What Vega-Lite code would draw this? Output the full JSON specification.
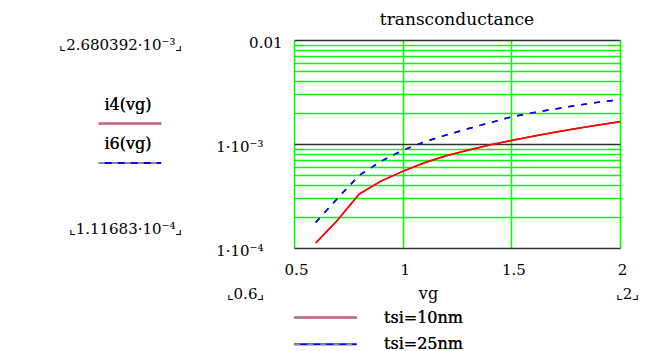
{
  "$schema": "https://vega.github.io/schema/vega-lite/v6.json",
  "width": 326,
  "height": 208,
  "autosize": {"type": "none"},
  "padding": {"left": 294, "top": 40, "right": 32, "bottom": 103},
  "background": "white",
  "config": {"view": {"stroke": null}, "font": "DejaVu Serif"},
  "title": {"text": "transconductance", "font": "DejaVu Serif", "fontSize": 17, "fontWeight": "normal", "color": "#000000", "anchor": "middle", "offset": 6, "frame": "group"},
  "data": {"values": [
    {"vg": 0.6, "g": 0.0001117, "tsi": "tsi=10nm", "fn": "i4(vg)"},
    {"vg": 0.7, "g": 0.000185, "tsi": "tsi=10nm", "fn": "i4(vg)"},
    {"vg": 0.8, "g": 0.00033, "tsi": "tsi=10nm", "fn": "i4(vg)"},
    {"vg": 0.9, "g": 0.00044, "tsi": "tsi=10nm", "fn": "i4(vg)"},
    {"vg": 1.0, "g": 0.000545, "tsi": "tsi=10nm", "fn": "i4(vg)"},
    {"vg": 1.1, "g": 0.00066, "tsi": "tsi=10nm", "fn": "i4(vg)"},
    {"vg": 1.2, "g": 0.00077, "tsi": "tsi=10nm", "fn": "i4(vg)"},
    {"vg": 1.3, "g": 0.00087, "tsi": "tsi=10nm", "fn": "i4(vg)"},
    {"vg": 1.4, "g": 0.00098, "tsi": "tsi=10nm", "fn": "i4(vg)"},
    {"vg": 1.5, "g": 0.00108, "tsi": "tsi=10nm", "fn": "i4(vg)"},
    {"vg": 1.6, "g": 0.00119, "tsi": "tsi=10nm", "fn": "i4(vg)"},
    {"vg": 1.7, "g": 0.0013, "tsi": "tsi=10nm", "fn": "i4(vg)"},
    {"vg": 1.8, "g": 0.00141, "tsi": "tsi=10nm", "fn": "i4(vg)"},
    {"vg": 1.9, "g": 0.00152, "tsi": "tsi=10nm", "fn": "i4(vg)"},
    {"vg": 2.0, "g": 0.00164, "tsi": "tsi=10nm", "fn": "i4(vg)"},
    {"vg": 0.6, "g": 0.000176, "tsi": "tsi=25nm", "fn": "i6(vg)"},
    {"vg": 0.7, "g": 0.0003, "tsi": "tsi=25nm", "fn": "i6(vg)"},
    {"vg": 0.8, "g": 0.0005, "tsi": "tsi=25nm", "fn": "i6(vg)"},
    {"vg": 0.9, "g": 0.00068, "tsi": "tsi=25nm", "fn": "i6(vg)"},
    {"vg": 1.0, "g": 0.00087, "tsi": "tsi=25nm", "fn": "i6(vg)"},
    {"vg": 1.1, "g": 0.00105, "tsi": "tsi=25nm", "fn": "i6(vg)"},
    {"vg": 1.2, "g": 0.00122, "tsi": "tsi=25nm", "fn": "i6(vg)"},
    {"vg": 1.3, "g": 0.0014, "tsi": "tsi=25nm", "fn": "i6(vg)"},
    {"vg": 1.4, "g": 0.0016, "tsi": "tsi=25nm", "fn": "i6(vg)"},
    {"vg": 1.5, "g": 0.00182, "tsi": "tsi=25nm", "fn": "i6(vg)"},
    {"vg": 1.6, "g": 0.002, "tsi": "tsi=25nm", "fn": "i6(vg)"},
    {"vg": 1.7, "g": 0.00217, "tsi": "tsi=25nm", "fn": "i6(vg)"},
    {"vg": 1.8, "g": 0.00235, "tsi": "tsi=25nm", "fn": "i6(vg)"},
    {"vg": 1.9, "g": 0.00252, "tsi": "tsi=25nm", "fn": "i6(vg)"},
    {"vg": 2.0, "g": 0.00268, "tsi": "tsi=25nm", "fn": "i6(vg)"}
  ]},
  "layer": [
    {
      "mark": {"type": "line", "strokeWidth": 1.5, "clip": true},
      "encoding": {
        "x": {"field": "vg", "type": "quantitative",
          "scale": {"domain": [0.5, 2], "nice": false, "zero": false},
          "axis": {"orient": "bottom", "values": [0.5, 1, 1.5, 2], "format": "~g", "grid": true, "gridColor": "#00ff00", "gridWidth": 1.5, "gridOpacity": 1,
            "domain": false, "ticks": false, "tickSize": 0, "labelPadding": 14, "labelOffset": 2, "labelFontSize": 15, "labelColor": "#000000", "labelFont": "DejaVu Serif",
            "labelFlush": false, "labelOverlap": false,
            "title": "vg", "titleFont": "DejaVu Serif", "titleFontSize": 16, "titleFontWeight": "normal", "titleColor": "#000000", "titleX": 134, "titleY": 45, "titleBaseline": "middle", "titleAlign": "center"}},
        "y": {"field": "g", "type": "quantitative",
          "scale": {"type": "log", "domain": [0.0001, 0.01], "nice": false},
          "axis": {"orient": "left", "values": [0.0001, 0.0002, 0.0003, 0.0004, 0.0005, 0.0006, 0.0007, 0.0008, 0.0009, 0.001, 0.002, 0.003, 0.004, 0.005, 0.006, 0.007, 0.008, 0.009, 0.01],
            "grid": true, "gridColor": {"condition": {"test": "abs(log(datum.value)/LN10 - round(log(datum.value)/LN10)) < 0.01", "value": "#333333"}, "value": "#00ff00"}, "gridWidth": 1.5, "gridOpacity": 1,
            "domain": false, "ticks": false, "tickSize": 0,
            "labelExpr": "datum.value > 0.0095 ? '0.01' : abs(datum.value - 0.001) < 0.000001 ? '1·10⁻³' : abs(datum.value - 0.0001) < 0.0000001 ? '1·10⁻⁴' : ''",
            "labelPadding": {"condition": {"test": "datum.value > 0.0095", "value": 12}, "value": 31},
            "labelOffset": 2, "labelFontSize": 15, "labelColor": "#000000", "labelFont": "DejaVu Serif", "labelBaseline": "middle",
            "labelFlush": false, "labelOverlap": false, "title": null}},
        "stroke": {"field": "tsi", "type": "nominal",
          "scale": {"domain": ["tsi=10nm", "tsi=25nm"], "range": ["#ff0000", "#0000ff"]},
          "legend": {"title": null, "orient": "none", "legendX": 18, "legendY": 264, "direction": "vertical", "symbolType": "M-2.5,0H2.5", "symbolSize": 625, "symbolStrokeWidth": 2, "symbolOpacity": 1,
            "labelOffset": 45, "labelFontSize": 16, "labelFont": "DejaVu Serif", "labelColor": "#000000", "rowPadding": 4.7, "padding": 0, "labelBaseline": "middle"}},
        "strokeDash": {"field": "tsi", "type": "nominal",
          "scale": {"domain": ["tsi=10nm", "tsi=25nm"], "range": [[1000, 0], [6, 7]]},
          "legend": {"title": null, "orient": "none", "legendX": 18, "legendY": 264, "direction": "vertical", "symbolType": "M-2.5,0H2.5", "symbolSize": 625, "symbolStrokeWidth": 2, "symbolOpacity": 1,
            "labelOffset": 45, "labelFontSize": 16, "labelFont": "DejaVu Serif", "labelColor": "#000000", "rowPadding": 4.7, "padding": 0, "labelBaseline": "middle"}}
      }
    },
    {
      "mark": {"type": "line", "strokeWidth": 1.5, "clip": true},
      "encoding": {
        "x": {"field": "vg", "type": "quantitative",
          "axis": {"orient": "bottom", "values": [0.5, 2], "grid": false, "domain": false, "ticks": false, "tickSize": 0,
            "labelExpr": "datum.value < 1 ? '⌞0.6⌟' : '⌞2⌟'", "labelPadding": 38,
            "labelOffset": {"condition": {"test": "datum.value < 1", "value": -49}, "value": 7},
            "labelFontSize": 15, "labelColor": "#000000", "labelFont": "DejaVu Serif", "labelFlush": false, "labelOverlap": false, "title": null}},
        "y": {"field": "g", "type": "quantitative",
          "axis": {"orient": "left", "values": [0.0001, 0.01], "grid": false, "domain": false, "ticks": false, "tickSize": 0,
            "labelExpr": "datum.value > 0.001 ? '⌞2.680392·10⁻³⌟' : '⌞1.11683·10⁻⁴⌟'", "labelPadding": 112,
            "labelOffset": {"condition": {"test": "datum.value > 0.001", "value": 4}, "value": -20},
            "labelFontSize": 15, "labelColor": "#000000", "labelFont": "DejaVu Serif", "labelBaseline": "middle", "labelFlush": false, "labelOverlap": false, "title": null}},
        "color": {"field": "fn", "type": "nominal",
          "scale": {"domain": ["i4(vg)", "i6(vg)"], "range": ["#ff0000", "#0000ff"]},
          "legend": {"title": null, "orient": "none", "legendX": -177.5, "legendY": 70, "direction": "vertical", "symbolType": "M-2.5,0H2.5", "symbolSize": 625, "symbolStrokeWidth": 2, "symbolOpacity": 1,
            "labelOffset": -39, "labelFontSize": 16, "labelFont": "DejaVu Serif", "labelColor": "#000000", "rowPadding": 7.5, "padding": 0, "labelBaseline": "middle",
            "encoding": {"labels": {"dy": {"value": -19}}}}},
        "strokeDash": {"field": "fn", "type": "nominal",
          "scale": {"domain": ["i4(vg)", "i6(vg)"], "range": [[1000, 0], [6, 7]]},
          "legend": {"title": null, "orient": "none", "legendX": -177.5, "legendY": 70, "direction": "vertical", "symbolType": "M-2.5,0H2.5", "symbolSize": 625, "symbolStrokeWidth": 2, "symbolOpacity": 1,
            "labelOffset": -39, "labelFontSize": 16, "labelFont": "DejaVu Serif", "labelColor": "#000000", "rowPadding": 7.5, "padding": 0, "labelBaseline": "middle",
            "encoding": {"labels": {"dy": {"value": -19}}}}}
      }
    }
  ],
  "resolve": {"scale": {"strokeDash": "independent"}, "axis": {"x": "independent", "y": "independent"}, "legend": {"strokeDash": "independent"}}
}
